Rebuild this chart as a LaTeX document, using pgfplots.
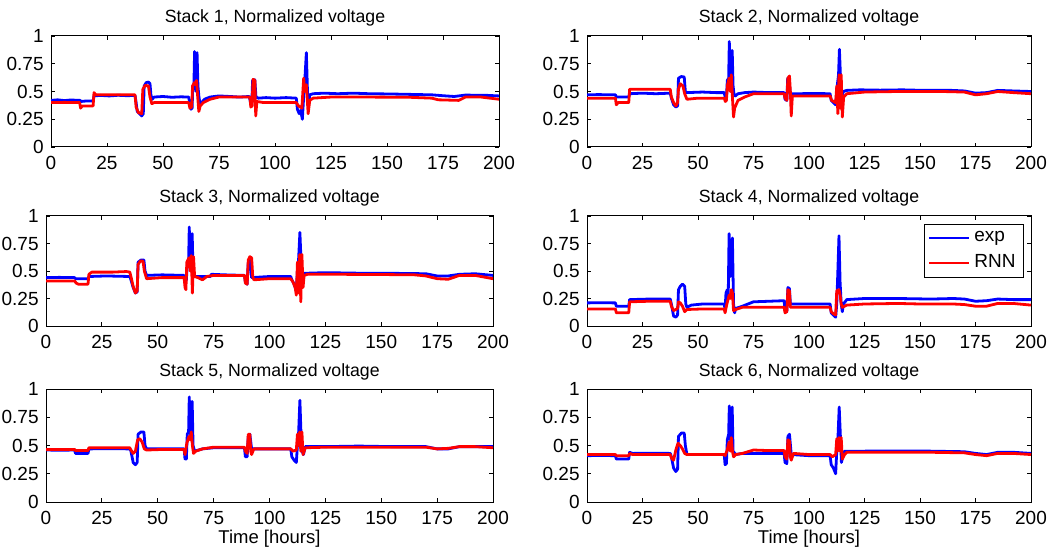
\documentclass[border=0pt]{standalone}
\usepackage{pgfplots}
\pgfplotsset{compat=1.18}
\usepackage{fontspec}
\setmainfont{Liberation Sans}
\definecolor{mblue}{RGB}{0,0,255}
\definecolor{mred}{RGB}{255,0,0}
\pgfplotsset{
 stk/.style={
  scale only axis, anchor=south west,
  xmin=0, xmax=200, ymin=0, ymax=1,
  xtick={0,25,50,75,100,125,150,175,200},
  xticklabels={0,25,50,75,100,125,150,175,200},
  ytick={0,0.25,0.5,0.75,1},
  yticklabels={0,0.25,0.5,0.75,1},
  tick align=inside, major tick length=2pt,
  axis line style={line width=0.5pt},
  every tick/.style={black, line width=0.4pt},
  tick label style={font=\fontsize{9.5}{11}\selectfont, inner sep=0pt},
  /pgf/number format/assume math mode=true,
  xticklabel style={anchor=north, yshift=-4.5pt},
  yticklabel style={anchor=east, xshift=-3.5pt},
  every axis title shift=0pt,
  title style={at={(0.5,1)}, anchor=base, yshift=6.5pt, inner sep=0pt, font=\fontsize{8.85}{10}\selectfont},
  xlabel style={at={(0.5,0)}, anchor=north, yshift=-14pt, inner sep=0pt, font=\fontsize{9.25}{11}\selectfont},
  clip=true,
 },
 ex/.style={mblue, line width=1.4pt, line join=round},
 rn/.style={mred, line width=1.4pt, line join=round},
}
\begin{document}
\begin{tikzpicture}
\useasboundingbox (0,0) rectangle (529pt,276pt);
% ---------------- Stack 1
\begin{axis}[stk, at={(25.5pt,202.5pt)}, width=224pt, height=55.5pt, title={Stack 1, Normalized voltage}]
\addplot[ex] coordinates {(0,0.42)(3,0.425)(6,0.418)(9,0.424)(12,0.42)(13,0.42)(13.3,0.41)(16,0.415)(18.8,0.415)(19.2,0.46)(22,0.465)(26,0.46)(30,0.466)(34,0.462)(37.5,0.465)(38,0.40)(38.5,0.32)(39.5,0.30)(40.5,0.28)(41.2,0.3)(41.6,0.55)(42.5,0.58)(43.5,0.585)(44.2,0.57)(44.6,0.47)(45.2,0.43)(46,0.45)(50,0.455)(54,0.448)(58,0.452)(61.5,0.45)(62,0.38)(62.5,0.34)(63,0.35)(63.3,0.55)(63.8,0.56)(64.1,0.86)(64.4,0.55)(64.8,0.5)(65.2,0.85)(65.6,0.55)(66,0.46)(66.5,0.39)(67.2,0.40)(68.5,0.43)(71,0.45)(75,0.46)(80,0.455)(84,0.45)(88.5,0.455)(89,0.41)(89.6,0.37)(90,0.60)(91,0.605)(91.5,0.45)(92.5,0.44)(96,0.445)(100,0.44)(105,0.445)(109.5,0.44)(110,0.34)(110.8,0.30)(111.5,0.33)(112.2,0.25)(112.8,0.45)(113.3,0.6)(114,0.85)(114.5,0.5)(115,0.38)(115.5,0.47)(117,0.48)(122,0.485)(128,0.48)(135,0.485)(142,0.48)(150,0.478)(158,0.475)(165,0.472)(170,0.47)(175,0.462)(180,0.455)(182,0.46)(185,0.468)(190,0.466)(195,0.465)(200,0.46)};
\addplot[rn] coordinates {(0,0.40)(6,0.402)(12.8,0.40)(13.2,0.35)(14,0.37)(18.8,0.37)(19.2,0.49)(20,0.47)(28,0.47)(37.5,0.47)(38,0.36)(39,0.31)(40.5,0.30)(41,0.52)(42,0.555)(43.5,0.55)(44.2,0.45)(45,0.39)(46,0.40)(55,0.40)(61.5,0.40)(62,0.35)(62.8,0.36)(63.2,0.55)(64,0.58)(64.6,0.56)(65,0.60)(65.5,0.45)(66,0.32)(66.6,0.37)(68,0.40)(71,0.43)(75,0.45)(82,0.45)(88.8,0.45)(89.2,0.36)(89.8,0.37)(90.2,0.61)(91,0.60)(91.4,0.28)(91.9,0.41)(95,0.40)(103,0.40)(109.5,0.40)(110.5,0.37)(112,0.35)(112.8,0.62)(113.3,0.5)(114,0.56)(114.8,0.30)(115.5,0.42)(117,0.44)(125,0.45)(140,0.45)(160,0.448)(170,0.44)(173,0.425)(182,0.42)(185,0.45)(192,0.45)(200,0.43)};
\end{axis}
% ---------------- Stack 2
\begin{axis}[stk, at={(293.5pt,202.5pt)}, width=222pt, height=55.5pt, title={Stack 2, Normalized voltage}]
\addplot[ex] coordinates {(0,0.47)(5,0.472)(12.8,0.47)(13.2,0.45)(18.8,0.45)(19.2,0.48)(25,0.485)(31,0.48)(37.5,0.485)(38,0.44)(39,0.38)(40,0.36)(40.8,0.37)(41.2,0.62)(42.5,0.635)(43.8,0.63)(44.3,0.50)(45,0.49)(52,0.495)(58,0.49)(61.8,0.49)(62.3,0.44)(62.8,0.44)(63.2,0.60)(63.8,0.62)(64.1,0.95)(64.5,0.62)(65,0.60)(65.4,0.87)(65.8,0.55)(66.2,0.48)(66.8,0.46)(68,0.48)(71,0.49)(75,0.495)(82,0.49)(88.8,0.49)(89.2,0.43)(90,0.42)(90.4,0.62)(91,0.60)(91.6,0.48)(95,0.48)(102,0.482)(109.5,0.48)(110,0.42)(111,0.40)(112,0.38)(112.7,0.55)(113.3,0.65)(113.7,0.88)(114.2,0.62)(114.6,0.45)(115.5,0.50)(117,0.51)(123,0.515)(132,0.512)(142,0.515)(152,0.51)(162,0.512)(170,0.505)(175,0.485)(180,0.49)(185,0.51)(192,0.505)(200,0.50)};
\addplot[rn] coordinates {(0,0.44)(6,0.44)(12.8,0.44)(13.2,0.38)(14,0.40)(18.8,0.40)(19.2,0.52)(28,0.52)(37.5,0.52)(38,0.45)(39,0.40)(40,0.37)(40.8,0.40)(41.2,0.52)(42,0.57)(43.2,0.55)(44,0.48)(45,0.43)(50,0.44)(61.8,0.44)(62.3,0.41)(62.8,0.42)(63.2,0.55)(64,0.62)(64.5,0.50)(65,0.65)(65.5,0.45)(66,0.27)(66.5,0.35)(68,0.42)(71,0.45)(75,0.48)(82,0.48)(88.8,0.48)(89.2,0.44)(90,0.42)(90.5,0.62)(91.2,0.64)(91.6,0.50)(92,0.28)(92.5,0.46)(100,0.46)(109.5,0.46)(110.2,0.42)(112,0.40)(112.5,0.55)(113,0.30)(113.5,0.65)(114,0.35)(114.5,0.65)(115,0.27)(115.6,0.45)(117,0.48)(125,0.495)(140,0.50)(160,0.50)(170,0.495)(175,0.47)(180,0.48)(185,0.50)(192,0.49)(200,0.48)};
\end{axis}
% ---------------- Stack 3
\begin{axis}[stk, at={(23pt,113pt)}, width=223.5pt, height=55pt, title={Stack 3, Normalized voltage}]
\addplot[ex] coordinates {(0,0.44)(6,0.442)(12.8,0.44)(13.2,0.43)(18.8,0.43)(19.2,0.45)(27,0.455)(37.5,0.45)(38,0.42)(39,0.35)(40,0.30)(40.8,0.31)(41.2,0.58)(42.5,0.60)(43.8,0.60)(44.3,0.50)(45,0.46)(52,0.465)(61.8,0.46)(62.2,0.40)(62.8,0.42)(63.2,0.55)(63.8,0.58)(64.1,0.90)(64.5,0.55)(65,0.60)(65.4,0.84)(65.8,0.50)(66.5,0.45)(70,0.45)(73.5,0.45)(74,0.47)(80,0.465)(88.8,0.46)(89.2,0.40)(90,0.38)(90.5,0.58)(91.2,0.60)(92,0.44)(100,0.45)(109.5,0.45)(110,0.42)(111,0.38)(112,0.32)(112.5,0.50)(113,0.60)(113.6,0.85)(114.1,0.60)(114.6,0.45)(115.5,0.48)(117,0.48)(125,0.485)(140,0.48)(160,0.478)(170,0.475)(175,0.455)(180,0.455)(185,0.47)(192,0.475)(200,0.46)};
\addplot[rn] coordinates {(0,0.41)(8,0.41)(12.8,0.41)(13.5,0.39)(14.5,0.38)(18.8,0.38)(19.2,0.47)(20.5,0.49)(30,0.49)(36,0.495)(37.5,0.49)(38,0.45)(39,0.36)(40,0.30)(40.8,0.32)(41.2,0.56)(42.2,0.59)(43.4,0.59)(44,0.50)(45,0.43)(52,0.44)(61.8,0.44)(62.2,0.35)(62.6,0.33)(63,0.58)(64,0.62)(64.5,0.50)(65,0.64)(65.5,0.30)(66,0.63)(66.5,0.45)(68,0.44)(70,0.42)(72,0.45)(75,0.46)(82,0.46)(88.8,0.46)(89.2,0.39)(90,0.38)(90.5,0.60)(91.2,0.63)(92,0.62)(92.5,0.45)(93,0.42)(100,0.43)(109.5,0.43)(110.5,0.40)(111.5,0.35)(112,0.28)(112.5,0.58)(113,0.30)(113.5,0.65)(114,0.22)(114.5,0.65)(115,0.35)(115.5,0.46)(117,0.47)(130,0.47)(150,0.468)(165,0.465)(170,0.455)(175,0.43)(180,0.425)(185,0.46)(192,0.46)(200,0.43)};
\end{axis}
% ---------------- Stack 4
\begin{axis}[stk, at={(293.5pt,113pt)}, width=222pt, height=55pt, title={Stack 4, Normalized voltage},
  legend style={at={(1,1)}, anchor=north east, xshift=-3.5pt, yshift=-4pt, draw=black, line width=0.5pt,
    font=\fontsize{9.5}{11}\selectfont, inner xsep=2pt, inner ysep=1.5pt, row sep=1pt, cells={anchor=west}},
  legend image code/.code={\draw[#1, line width=1.1pt] (0pt,0pt) -- (20pt,0pt);}]
\addplot[ex] coordinates {(0,0.21)(6,0.212)(12.8,0.21)(13.2,0.18)(18.8,0.18)(19.2,0.24)(28,0.245)(37.5,0.245)(38,0.20)(39,0.09)(40,0.08)(40.8,0.10)(41.2,0.33)(42,0.36)(43,0.38)(44,0.36)(44.5,0.20)(45,0.17)(47,0.19)(52,0.20)(61.8,0.20)(62.2,0.15)(62.6,0.30)(63.2,0.33)(63.6,0.25)(64,0.84)(64.5,0.45)(65,0.50)(65.5,0.80)(66,0.20)(66.5,0.12)(67,0.16)(70,0.18)(75,0.22)(82,0.225)(88.8,0.23)(89.2,0.14)(90,0.13)(90.5,0.35)(91.2,0.34)(91.6,0.20)(100,0.20)(109.5,0.20)(110,0.12)(111,0.10)(112,0.08)(112.5,0.20)(113,0.50)(113.5,0.82)(114,0.40)(114.5,0.20)(115,0.13)(115.5,0.20)(117,0.24)(125,0.25)(140,0.25)(155,0.245)(165,0.25)(170,0.245)(175,0.225)(180,0.23)(185,0.245)(192,0.24)(200,0.24)};
\addlegendentry{exp}
\addplot[rn] coordinates {(0,0.155)(8,0.155)(12.8,0.155)(13.2,0.12)(18.8,0.12)(19.2,0.22)(28,0.225)(37.5,0.225)(38,0.18)(39,0.14)(40,0.15)(40.8,0.16)(41.2,0.22)(42,0.21)(43,0.18)(44,0.13)(45,0.15)(52,0.155)(61.8,0.155)(62.2,0.12)(63,0.20)(64,0.28)(64.5,0.25)(65,0.33)(65.5,0.30)(66,0.14)(67,0.15)(70,0.17)(75,0.17)(82,0.17)(88.8,0.17)(89.2,0.12)(90,0.13)(90.5,0.33)(91.2,0.32)(91.6,0.17)(100,0.17)(109.5,0.17)(110,0.13)(111,0.11)(112,0.10)(112.5,0.32)(113.5,0.33)(114,0.28)(114.5,0.20)(115,0.17)(117,0.19)(125,0.20)(140,0.205)(150,0.20)(165,0.20)(170,0.195)(175,0.18)(180,0.18)(185,0.205)(192,0.205)(200,0.19)};
\addlegendentry{RNN}
\end{axis}
% ---------------- Stack 5
\begin{axis}[stk, at={(23pt,25pt)}, width=223.5pt, height=56.5pt, title={Stack 5, Normalized voltage}, xlabel={Time [hours]}]
\addplot[ex] coordinates {(0,0.46)(6,0.458)(12.8,0.46)(13.2,0.43)(18.8,0.43)(19.2,0.47)(28,0.472)(37.5,0.47)(38,0.45)(39,0.35)(40,0.33)(40.8,0.35)(41.2,0.60)(42.5,0.62)(43.8,0.62)(44.3,0.50)(45,0.47)(52,0.47)(61.8,0.47)(62.2,0.38)(62.8,0.38)(63.2,0.60)(63.8,0.62)(64.1,0.93)(64.5,0.60)(65,0.60)(65.4,0.89)(65.8,0.50)(66.5,0.45)(70,0.47)(75,0.48)(82,0.48)(88.8,0.48)(89.2,0.40)(90,0.40)(90.5,0.58)(91.2,0.60)(92,0.47)(100,0.47)(109.5,0.47)(110,0.40)(111,0.37)(112,0.35)(112.5,0.50)(113,0.60)(113.6,0.90)(114.1,0.60)(114.6,0.45)(115.2,0.42)(116,0.49)(125,0.49)(140,0.495)(155,0.49)(170,0.49)(175,0.47)(180,0.47)(185,0.49)(192,0.49)(200,0.49)};
\addplot[rn] coordinates {(0,0.465)(8,0.465)(12.8,0.465)(13.2,0.455)(18.8,0.455)(19.2,0.48)(28,0.48)(37.5,0.48)(38,0.46)(39,0.43)(40,0.45)(41,0.55)(42,0.56)(43,0.53)(44,0.47)(45,0.46)(52,0.465)(61.8,0.465)(62.2,0.42)(63,0.52)(64,0.58)(64.5,0.55)(65,0.62)(65.5,0.50)(66,0.43)(67,0.45)(70,0.47)(75,0.485)(82,0.485)(88.8,0.485)(89.2,0.45)(90,0.43)(90.5,0.60)(91.2,0.60)(91.6,0.45)(92,0.42)(93,0.47)(100,0.47)(109.5,0.47)(110.5,0.45)(112,0.46)(112.5,0.60)(113,0.50)(113.5,0.62)(114,0.45)(114.5,0.62)(115,0.42)(116,0.48)(125,0.485)(140,0.485)(155,0.485)(170,0.485)(175,0.47)(180,0.475)(185,0.49)(192,0.49)(200,0.48)};
\end{axis}
% ---------------- Stack 6
\begin{axis}[stk, at={(293.5pt,25pt)}, width=222pt, height=56.5pt, title={Stack 6, Normalized voltage}, xlabel={Time [hours]}]
\addplot[ex] coordinates {(0,0.41)(6,0.412)(12.8,0.41)(13.2,0.38)(18.8,0.38)(19.2,0.44)(20.5,0.43)(28,0.432)(37.5,0.43)(38,0.40)(39,0.30)(40,0.27)(40.8,0.29)(41.2,0.58)(42.5,0.61)(43.8,0.61)(44.3,0.50)(45,0.42)(52,0.42)(61.8,0.42)(62.2,0.33)(62.8,0.34)(63.2,0.55)(63.8,0.60)(64.1,0.85)(64.5,0.55)(65,0.60)(65.4,0.84)(65.8,0.45)(67,0.42)(70,0.43)(75,0.43)(82,0.43)(88.8,0.43)(89.2,0.35)(90,0.34)(90.5,0.58)(91.2,0.60)(92,0.42)(100,0.41)(109.5,0.41)(110,0.33)(111,0.30)(112,0.25)(112.5,0.45)(113,0.55)(113.6,0.84)(114.1,0.60)(114.6,0.35)(115.2,0.40)(116,0.45)(125,0.45)(140,0.452)(155,0.45)(170,0.445)(175,0.43)(180,0.42)(185,0.44)(192,0.44)(200,0.43)};
\addplot[rn] coordinates {(0,0.42)(8,0.42)(12.8,0.42)(13.2,0.41)(18.8,0.41)(19.2,0.43)(20.5,0.42)(28,0.42)(37.5,0.42)(38,0.39)(39,0.37)(40,0.46)(41,0.52)(42,0.50)(43,0.47)(44,0.43)(45,0.42)(52,0.42)(61.8,0.42)(62.2,0.41)(63,0.45)(64,0.53)(64.5,0.45)(65,0.57)(65.5,0.45)(66,0.40)(67,0.42)(70,0.43)(75,0.46)(82,0.455)(88.8,0.455)(89.2,0.40)(90,0.38)(90.5,0.55)(91.2,0.54)(91.6,0.40)(92,0.37)(93,0.43)(100,0.42)(109.5,0.42)(110.5,0.40)(112,0.42)(112.5,0.56)(113,0.45)(113.5,0.57)(114,0.45)(114.5,0.57)(115,0.38)(116,0.42)(117,0.44)(125,0.44)(140,0.44)(155,0.44)(170,0.435)(175,0.42)(180,0.41)(185,0.43)(192,0.43)(200,0.42)};
\end{axis}
\end{tikzpicture}
\end{document}
